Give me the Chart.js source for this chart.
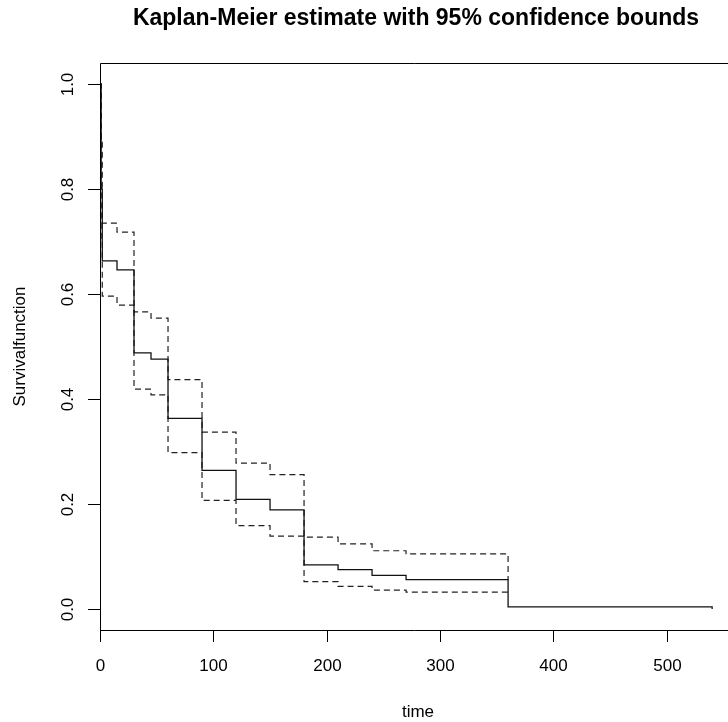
<!DOCTYPE html>
<html>
<head>
<meta charset="utf-8">
<script src="https://cdn.jsdelivr.net/npm/chart.js@4.4.1/dist/chart.umd.min.js"></script>
<style>
  html, body { margin: 0; padding: 0; background: #fff; }
  #wrap { width: 728px; height: 722px; }
</style>
</head>
<body>
<div id="wrap"><canvas id="km"></canvas></div>
<script>
// Kaplan-Meier estimate
const times    = [0, 1, 2, 15, 30, 45, 60, 90, 120, 150, 180, 210, 240, 270, 360, 540];
const survival = [1.0, 0.80, 0.663, 0.646, 0.488, 0.476, 0.363, 0.264, 0.209, 0.189, 0.084, 0.075, 0.064, 0.056, 0.004, 0.0];
const upperCI  = [1.0, 0.893, 0.735, 0.718, 0.566, 0.554, 0.437, 0.337, 0.278, 0.256, 0.137, 0.124, 0.111, 0.105, 0.056, null];
const lowerCI  = [1.0, 0.70, 0.596, 0.579, 0.419, 0.408, 0.298, 0.207, 0.159, 0.139, 0.052, 0.043, 0.036, 0.032, 0.032, null];

const xTicks = [0, 100, 200, 300, 400, 500];
const yTicks = [0.0, 0.2, 0.4, 0.6, 0.8, 1.0];
const yTickLabels = ["0.0", "0.2", "0.4", "0.6", "0.8", "1.0"];

const titleText = "Kaplan-Meier estimate with 95% confidence bounds";
const xLabel = "time";
const yLabel = "Survivalfunction";

const toPoints = (vals) => times.map((t, i) => ({ x: t, y: vals[i] }));

const FONT = '"Liberation Sans", Arial, sans-serif';

// R style axes, box and labels drawn from the chart's own scales
const baseAxes = {
  id: 'baseAxes',
  afterDraw(chart) {
    const ctx = chart.ctx;
    const a = chart.chartArea;
    const xs = chart.scales.x, ys = chart.scales.y;
    ctx.save();
    ctx.strokeStyle = '#000';
    ctx.lineWidth = 1;
    ctx.setLineDash([]);

    // box
    ctx.beginPath();
    ctx.moveTo(a.left + 0.5, a.bottom + 0.5);
    ctx.lineTo(a.left + 0.5, a.top + 0.5);
    ctx.lineTo(a.right + 1, a.top + 0.5);
    ctx.moveTo(a.left + 0.5, a.bottom + 0.5);
    ctx.lineTo(a.right + 1, a.bottom + 0.5);
    ctx.stroke();

    ctx.fillStyle = '#000';
    ctx.font = '17px ' + FONT;

    // x ticks
    ctx.textAlign = 'center';
    ctx.textBaseline = 'middle';
    xTicks.forEach(v => {
      const px = Math.round(xs.getPixelForValue(v)) + 0.5;
      ctx.beginPath();
      ctx.moveTo(px, a.bottom);
      ctx.lineTo(px, a.bottom + 12);
      ctx.stroke();
      ctx.fillText(String(v), px, a.bottom + 36);
    });

    // y ticks, labels rotated like R
    yTicks.forEach((v, i) => {
      const py = Math.round(ys.getPixelForValue(v)) + 0.5;
      ctx.beginPath();
      ctx.moveTo(a.left - 12, py);
      ctx.lineTo(a.left, py);
      ctx.stroke();
      ctx.save();
      ctx.translate(a.left - 32, py);
      ctx.rotate(-Math.PI / 2);
      ctx.fillText(yTickLabels[i], 0, 0);
      ctx.restore();
    });

    // axis titles
    ctx.fillText(xLabel, 418, a.bottom + 82);
    ctx.save();
    ctx.translate(20, (a.top + a.bottom) / 2);
    ctx.rotate(-Math.PI / 2);
    ctx.fillText(yLabel, 0, 0);
    ctx.restore();

    // main title
    ctx.font = 'bold 23px ' + FONT;
    ctx.fillText(titleText, 416, 19);
    ctx.restore();
  }
};

new Chart(document.getElementById('km').getContext('2d'), {
  type: 'line',
  data: {
    datasets: [
      {
        label: 'Survival',
        data: toPoints(survival),
        borderColor: '#111',
        borderWidth: 1.3,
        stepped: 'before',
        pointRadius: 0,
        fill: false
      },
      {
        label: 'Upper 95%',
        data: toPoints(upperCI),
        borderColor: '#222',
        borderWidth: 1.2,
        borderDash: [6, 4],
        stepped: 'before',
        pointRadius: 0,
        fill: false
      },
      {
        label: 'Lower 95%',
        data: toPoints(lowerCI),
        borderColor: '#222',
        borderWidth: 1.2,
        borderDash: [6, 4],
        stepped: 'before',
        pointRadius: 0,
        fill: false
      }
    ]
  },
  options: {
    responsive: true,
    maintainAspectRatio: false,
    animation: false,
    layout: { padding: { left: 100, top: 63, right: 0, bottom: 92 } },
    plugins: {
      legend: { display: false },
      tooltip: { enabled: false },
      title: { display: false }
    },
    scales: {
      x: { type: 'linear', min: 0, max: 554, display: false },
      y: { type: 'linear', min: -0.04, max: 1.04, display: false }
    }
  },
  plugins: [baseAxes]
});
</script>
</body>
</html>
